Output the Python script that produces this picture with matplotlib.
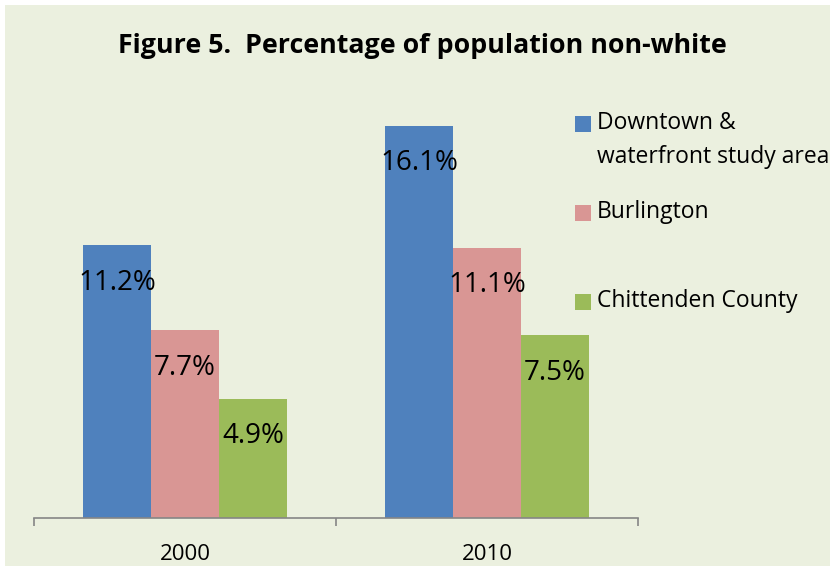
import numpy as np
import matplotlib

matplotlib.use("Agg")
import matplotlib.pyplot as plt
from matplotlib.patches import Rectangle

plt.rcParams["font.family"] = ["Open Sans", "DejaVu Sans"]

years = ["2000", "2010"]
series = ["Downtown &\nwaterfront study area", "Burlington", "Chittenden County"]
values = {
    "Downtown &\nwaterfront study area": [11.2, 16.1],
    "Burlington": [7.7, 11.1],
    "Chittenden County": [4.9, 7.5],
}
colors = ["#4F81BD", "#D99694", "#9BBB59"]
bg = "#EBF0DF"

W, H = 830, 566
fig = plt.figure(figsize=(W / 100, H / 100), dpi=100, facecolor="white")

# light green chart area with a thin white margin on top and left
fig.patches.append(Rectangle((5 / W, -0.01), 1.1, 1.01 - 5 / H, transform=fig.transFigure,
                             facecolor=bg, edgecolor="none", zorder=-1))

ax = fig.add_axes([34 / W, 1 - 518 / H, (638 - 34) / W, (518 - 79.6) / H])
ax.set_facecolor("none")
ax.set_zorder(2)

x = np.arange(len(years))
bar_w = 67 / 298
for i, (name, col) in enumerate(zip(series, colors)):
    pos = x + (i - 1) * bar_w
    bars = ax.bar(pos, values[name], width=bar_w, color=col, zorder=2)
    for b, v in zip(bars, values[name]):
        ax.annotate(f"{v:.1f}%", (b.get_x() + b.get_width() / 2, v),
                    xytext=(0, -27), textcoords="offset points", ha="center",
                    va="center", fontsize=20, color="black", zorder=3)

ax.set_xlim(-0.5, 1.5)
ax.set_ylim(0, 18)
ax.set_yticks([])
for s in ["top", "right", "left"]:
    ax.spines[s].set_visible(False)
ax.spines["bottom"].set_color("#868686")
ax.spines["bottom"].set_linewidth(1.2)

# ticks at category boundaries, labels at centres
ax.set_xticks([-0.5, 0.5, 1.5])
ax.set_xticklabels([])
ax.tick_params(axis="x", length=6, width=1.2, color="#868686", direction="out")
ax.set_xticks(x, minor=True)
ax.set_xticklabels(years, minor=True, fontsize=16)
ax.tick_params(axis="x", which="minor", length=0, pad=19)

fig.text(422 / W, 1 - 46 / H, "Figure 5.  Percentage of population non-white",
         ha="center", va="center", fontsize=19.3, fontweight="bold")

# legend entries, each with its own slot
legend_y = [124, 213, 302]
for name, col, y in zip(series, colors, legend_y):
    fig.add_artist(Rectangle((575 / W, 1 - (y + 8) / H), 16 / W, 16 / H,
                             transform=fig.transFigure, facecolor=col,
                             edgecolor="none"))
    fig.text(597 / W, 1 - (y - 13) / H, name, ha="left", va="top",
             fontsize=16.5, linespacing=1.55)

fig.savefig("out.png", dpi=100, facecolor="white")
